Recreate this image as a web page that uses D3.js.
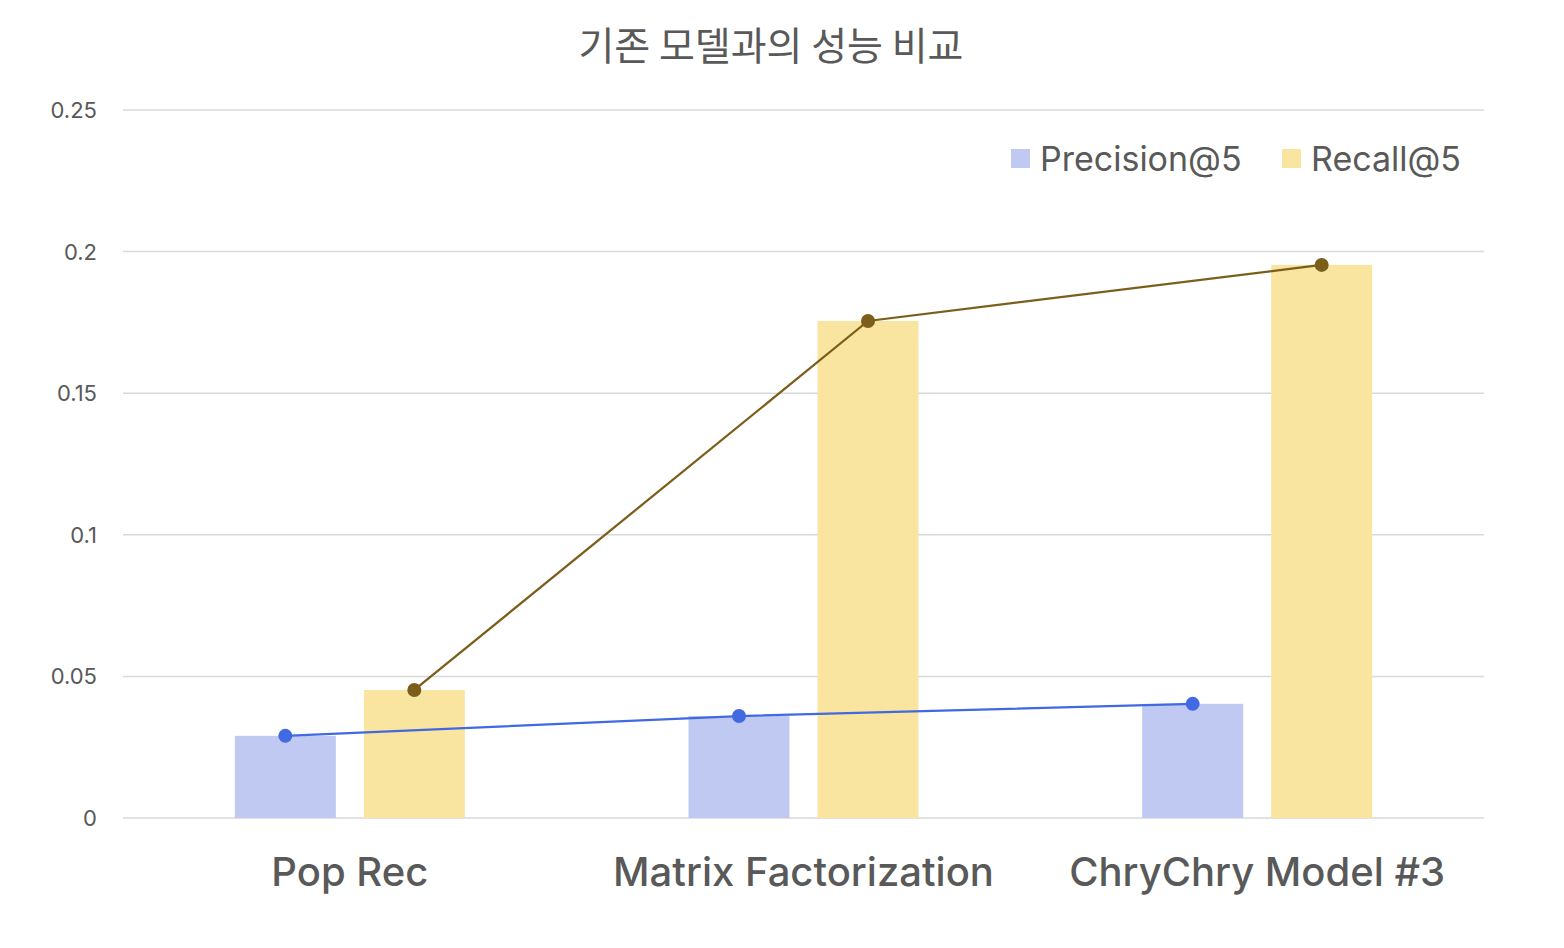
<!DOCTYPE html>
<html><head><meta charset="utf-8">
<script src="https://cdn.jsdelivr.net/npm/d3@7"></script>
<style>body{margin:0;background:#fff;} svg{display:block;}</style>
</head><body>
<svg id="c" width="1564" height="948"></svg>
<script>
const categories = ["Pop Rec", "Matrix Factorization", "ChryChry Model #3"];
const precision = [0.029, 0.036, 0.0403];
const recall = [0.0452, 0.1755, 0.1953];
const yTicks = [0, 0.05, 0.1, 0.15, 0.2, 0.25];
const seriesNames = ["Precision@5", "Recall@5"];
const title = "기존 모델과의 성능 비교";

const svg = d3.select("#c");
const m = {l:123, r:1484, t:110, b:818};
const x = d3.scaleBand().domain(categories).range([m.l, m.r]);
const y = d3.scaleLinear().domain([0, 0.25]).range([m.b, m.t]);
const barW = 101, gap = 28;
const txt = "#595959";

// gridlines
svg.append("g").selectAll("line").data(yTicks).join("line")
  .attr("x1", m.l).attr("x2", m.r)
  .attr("y1", d => y(d)).attr("y2", d => y(d))
  .attr("stroke", "#d9d9d9").attr("stroke-width", 1.5);

// y labels
svg.append("g").selectAll("text").data(yTicks).join("text")
  .attr("x", 97).attr("y", d => y(d) + 8)
  .attr("text-anchor", "end")
  .attr("font-family", "Inter, 'Noto Sans', sans-serif").attr("font-size", 22)
  .attr("fill", txt).text(d => d3.format("")(d));

const cx = (c, k) => x(c) + x.bandwidth()/2 + (k === 0 ? -(gap/2 + barW/2) : (gap/2 + barW/2));

const colors = ["#bfc9f2", "#f9e4a0"];
const lineColors = ["#4169e1", "#7b5e1a"];
const series = [precision, recall];

series.forEach((vals, k) => {
  svg.append("g").selectAll("rect").data(vals).join("rect")
    .attr("x", (d, i) => cx(categories[i], k) - barW/2)
    .attr("width", barW)
    .attr("y", d => y(d))
    .attr("height", d => y(0) - y(d))
    .attr("fill", colors[k]);
});

series.forEach((vals, k) => {
  const line = d3.line().x((d, i) => cx(categories[i], k)).y(d => y(d));
  svg.append("path").datum(vals).attr("d", line)
    .attr("fill", "none").attr("stroke", lineColors[k]).attr("stroke-width", 2.25);
  svg.append("g").selectAll("circle").data(vals).join("circle")
    .attr("cx", (d, i) => cx(categories[i], k)).attr("cy", d => y(d))
    .attr("r", 7).attr("fill", lineColors[k]);
});

// x labels
svg.append("g").selectAll("text").data(categories).join("text")
  .attr("x", d => x(d) + x.bandwidth()/2).attr("y", 886)
  .attr("text-anchor", "middle")
  .attr("font-family", "Inter, 'Noto Sans', sans-serif").attr("font-size", 40)
  .attr("font-weight", 500)
  .attr("fill", txt).text(d => d);

// title
svg.append("text").attr("x", 771).attr("y", 60).attr("text-anchor", "middle")
  .attr("font-family", "'Noto Sans CJK KR', sans-serif").attr("font-size", 39)
  .attr("font-weight", 400)
  .attr("fill", txt).text(title);

// legend
const lx = [1011, 1282];
seriesNames.forEach((n, k) => {
  svg.append("rect").attr("x", lx[k]).attr("y", 149).attr("width", 19).attr("height", 19).attr("fill", colors[k]);
  svg.append("text").attr("x", lx[k] + 29).attr("y", 171)
    .attr("font-family", "Inter, 'Noto Sans', sans-serif").attr("font-size", 34)
    .attr("fill", txt).text(n);
});
</script>
</body></html>
